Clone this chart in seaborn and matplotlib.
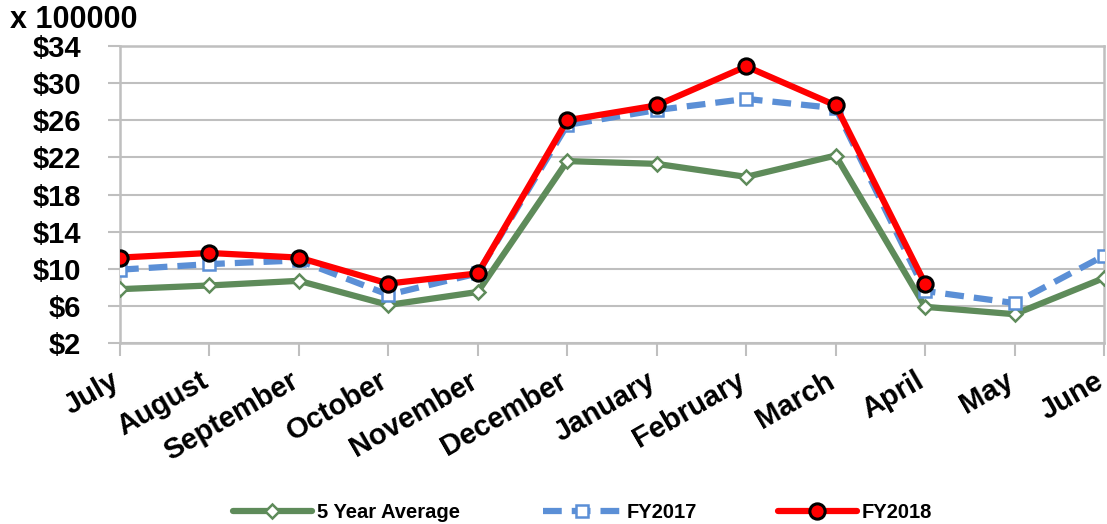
import matplotlib
matplotlib.use("Agg")
import matplotlib.pyplot as plt
import seaborn as sns
import pandas as pd
import numpy as np

months = ["July", "August", "September", "October", "November", "December",
          "January", "February", "March", "April", "May", "June"]
avg5 = [7.8, 8.2, 8.7, 6.1, 7.5, 21.6, 21.3, 19.9, 22.2, 5.9, 5.1, 9.0]
fy2017 = [9.9, 10.5, 10.9, 7.2, 9.5, 25.5, 27.1, 28.3, 27.3, 7.6, 6.3, 11.4]
fy2018 = [11.2, 11.7, 11.2, 8.4, 9.5, 26.0, 27.6, 31.8, 27.6, 8.4, np.nan, np.nan]
yticks = [2, 6, 10, 14, 18, 22, 26, 30, 34]
ytick_labels = ["$2", "$6", "$10", "$14", "$18", "$22", "$26", "$30", "$34"]
series_names = ["5 Year Average", "FY2017", "FY2018"]

sns.set_style("white")
plt.rcParams['font.family'] = ['Liberation Sans', 'DejaVu Sans']
plt.rcParams['text.color'] = 'black'
plt.rcParams['xtick.color'] = 'black'
plt.rcParams['ytick.color'] = 'black'

fig = plt.figure(figsize=(11.07, 5.24), dpi=100)
ax = fig.add_axes([120/1107, 1-343/524, (1104-120)/1107, (343-46)/524])

pos = list(range(len(months)))
df = pd.DataFrame({"pos": pos, "avg": avg5, "fy17": fy2017, "fy18": fy2018})

sns.lineplot(data=df, x="pos", y="avg", ax=ax, color="#5E8B5A", lw=4.5,
             marker="D", markersize=7, markerfacecolor="white",
             markeredgecolor="#5E8B5A", markeredgewidth=1.8,
             label=series_names[0], zorder=3)
sns.lineplot(data=df, x="pos", y="fy17", ax=ax, color="#5B8FD6", lw=4.5,
             linestyle=(0, (3, 1.6)), marker="s", markersize=8,
             markerfacecolor="white", markeredgecolor="#5B8FD6",
             markeredgewidth=1.8, label=series_names[1], zorder=4)
sns.lineplot(data=df.dropna(), x="pos", y="fy18", ax=ax, color="#FF0000", lw=4.5,
             marker="o", markersize=11, markerfacecolor="#FF0000",
             markeredgecolor="black", markeredgewidth=2.2,
             label=series_names[2], zorder=5)

ax.set_xlim(0, 11)
ax.set_ylim(2, 34)
ax.set_yticks(yticks)
ax.set_yticklabels(ytick_labels, fontsize=21, fontweight="bold")
ax.set_xticks(pos)
ax.set_xticklabels(months, fontsize=21, fontweight="bold", rotation=30,
                   ha="right", va="top", rotation_mode="anchor")
ax.set_xlabel("")
ax.set_ylabel("")

ax.grid(axis="y", color="#BFBFBF", lw=1.5)
ax.grid(axis="x", visible=False)
for s in ax.spines.values():
    s.set_visible(True)
    s.set_color("#BFBFBF")
    s.set_linewidth(1.8)
ax.tick_params(axis="both", which="both", length=9, width=1.5, color="#BFBFBF",
               labelcolor="black", direction="out", left=True, bottom=True)
ax.tick_params(axis="x", pad=8)
ax.tick_params(axis="y", pad=19)
shift = matplotlib.transforms.ScaledTranslation(-10/100, 0, fig.dpi_scale_trans)
for lab in ax.get_xticklabels():
    lab.set_clip_on(False)
    lab.set_transform(lab.get_transform() + shift)

fig.text(10/1107, 1-20/524, "x 100000", fontsize=22, fontweight="bold",
         va="center", ha="left", color="black")

ax.legend_.remove()
handles, labels = ax.get_legend_handles_labels()
starts = [233, 543, 778]
for h, l, x0 in zip(handles, labels, starts):
    fig.legend([h], [l], loc="center left", bbox_to_anchor=(x0/1107, 1-513/524),
               frameon=False, prop={"weight": "bold", "size": 14.5},
               handlelength=3.9, handletextpad=0.25, borderpad=0, borderaxespad=0)

fig.savefig("out.png", dpi=100)
